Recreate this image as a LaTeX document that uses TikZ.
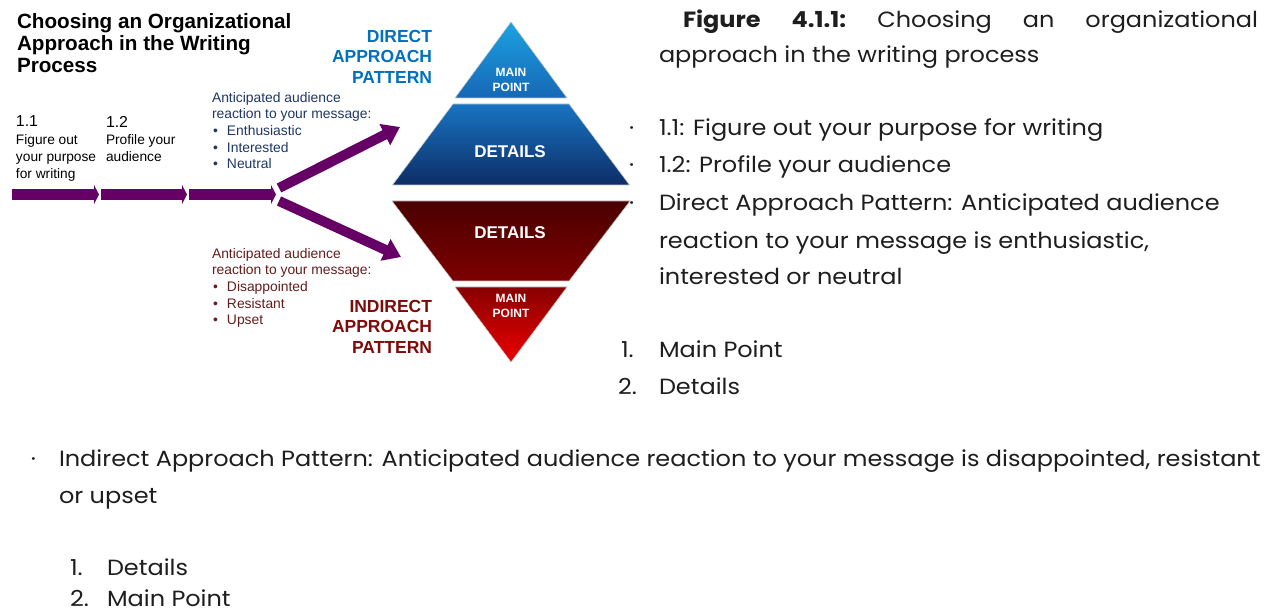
\documentclass[tikz,border=0pt]{standalone}
\usepackage{fontspec}
\setmainfont{Liberation Sans}
\newfontfamily\pop[FakeStretch=1.09]{Poppins}
\usetikzlibrary{arrows.meta}
\definecolor{purp}{HTML}{660066}
\definecolor{dirblue}{HTML}{0070C0}
\definecolor{indred}{HTML}{7F0A0A}
\definecolor{listblue}{HTML}{1F3864}
\definecolor{listred}{HTML}{641E1E}
\definecolor{txt}{HTML}{1E1E1E}
\definecolor{bA}{HTML}{1CA2E2}
\definecolor{bB}{HTML}{1767B5}
\definecolor{bC}{HTML}{1874C2}
\definecolor{bD}{HTML}{0D2D66}
\definecolor{rA}{HTML}{4A0000}
\definecolor{rB}{HTML}{7E0000}
\definecolor{rC}{HTML}{880000}
\definecolor{rD}{HTML}{EC0000}
\begin{document}
\begin{tikzpicture}[x=0.75pt,y=-0.75pt,
  every node/.style={inner sep=0pt,outer sep=0pt},
  ttl/.style={anchor=north west,align=left,font=\bfseries\fontsize{15.5pt}{16.5pt}\selectfont},
  pattern/.style={anchor=north east,align=right,font=\bfseries\fontsize{13.1pt}{15.4pt}\selectfont},
  stepnum/.style={anchor=north west,font=\fontsize{11.9pt}{13pt}\selectfont},
  steptxt/.style={anchor=north west,align=left,font=\fontsize{10.3pt}{12.4pt}\selectfont},
  reaction/.style={anchor=north west,align=left,font=\fontsize{10.4pt}{12.5pt}\selectfont},
  hbar/.style={draw=purp,line width=8.25pt,-{Triangle[length=3.75pt,width=14.25pt]}},
  diag/.style={draw=purp,line width=7.5pt,-{Triangle[length=12.75pt,width=17pt]}},
  piece/.style={draw=gray!45,line width=0.4pt},
  inlbl/.style={text=white,align=center,font=\bfseries\fontsize{9pt}{11.25pt}\selectfont},
  bigl/.style={text=white,font=\bfseries\fontsize{12.75pt}{14pt}\selectfont},
  rt/.style={anchor=base west,text=txt,font=\pop\fontsize{16.5pt}{20pt}\selectfont},
]
\useasboundingbox (0,0) rectangle (1272,613);
\fill[white] (0,0) rectangle (1272,613);

% title
\node[ttl] (title) at (17,14) {Choosing an Organizational\\Approach in the Writing\\Process};
\node[pattern,text=dirblue] (direct) at (432,30) {DIRECT\\APPROACH\\PATTERN};
\node[pattern,text=indred] (indirect) at (432,300) {INDIRECT\\APPROACH\\PATTERN};

% steps
\node[stepnum] (n11) at (16,116) {1.1};
\node[steptxt] (s11) at (16,135) {Figure out\\your purpose\\for writing};
\node[stepnum] (n12) at (106,116) {1.2};
\node[steptxt] (s12) at (106,135) {Profile your\\audience};

% reactions
\node[reaction,text=listblue] (rblue) at (212,92) {Anticipated audience\\reaction to your message:\\
\makebox[11.25pt][l]{\hspace{0.8pt}•}Enthusiastic\\
\makebox[11.25pt][l]{\hspace{0.8pt}•}Interested\\
\makebox[11.25pt][l]{\hspace{0.8pt}•}Neutral};
\node[reaction,text=listred] (rred) at (212,248) {Anticipated audience\\reaction to your message:\\
\makebox[11.25pt][l]{\hspace{0.8pt}•}Disappointed\\
\makebox[11.25pt][l]{\hspace{0.8pt}•}Resistant\\
\makebox[11.25pt][l]{\hspace{0.8pt}•}Upset};

% arrows
\coordinate (h0) at (12,194.5);
\coordinate (h1) at (99,194.5);
\coordinate (h2) at (101,194.5);
\coordinate (h3) at (187,194.5);
\coordinate (h4) at (189,194.5);
\coordinate (h5) at (276,194.5);
\coordinate (u0) at (279,188);
\coordinate (u1) at (400,127);
\coordinate (d0) at (279,201);
\coordinate (d1) at (401,257);
\draw[diag] (u0) -- (u1);
\draw[diag] (d0) -- (d1);
\draw[hbar] (h0) -- (h1);
\draw[hbar] (h2) -- (h3);
\draw[hbar] (h4) -- (h5);

% pyramid
\shadedraw[piece,top color=bA,bottom color=bB] (511,22) -- (567,98) -- (455,98) -- cycle;
\shadedraw[piece,top color=bC,bottom color=bD] (453,104) -- (569,104) -- (629.5,185) -- (392.5,185) -- cycle;
\shadedraw[piece,top color=rA,bottom color=rB] (392,201) -- (630,201) -- (569,281) -- (453,281) -- cycle;
\shadedraw[piece,top color=rC,bottom color=rD] (455,287) -- (567,287) -- (511,362) -- cycle;
\node[inlbl] (mp1) at (511,79.5) {MAIN\\POINT};
\node[bigl] (dt1) at (510,152) {DETAILS};
\node[bigl] (dt2) at (510,233) {DETAILS};
\node[inlbl] (mp2) at (511,305.5) {MAIN\\POINT};

% right text
\node[rt] (f1) at (683,28) {\makebox[431.25pt][s]{\textbf{Figure}\hfill\textbf{4.1.1:}\hfill Choosing\hfill an\hfill organizational}};
\node[rt] (f2) at (659,63) {approach in the writing process};
\node[rt] (d1) at (629,136) {·};
\node[rt] (l1) at (659,136) {1.1: Figure out your purpose for writing};
\node[rt] (d2) at (629,173) {·};
\node[rt] (l2) at (659,173) {1.2: Profile your audience};
\node[rt] (d3) at (629,211) {·};
\node[rt] (l3) at (659,211) {Direct Approach Pattern: Anticipated audience};
\node[rt] (l4) at (659,248) {reaction to your message is enthusiastic,};
\node[rt] (l5) at (659,285) {interested or neutral};
\node[rt] (k1) at (621,357) {1.};
\node[rt] (l6) at (659,357) {Main Point};
\node[rt] (k2) at (618,394) {2.};
\node[rt] (l7) at (659,394) {Details};
\node[rt] (d4) at (31,466) {·};
\node[rt] (l8) at (59,466) {Indirect Approach Pattern: Anticipated audience reaction to your message is disappointed, resistant};
\node[rt] (l9) at (59,503) {or upset};
\node[rt] (k3) at (70,575) {1.};
\node[rt] (l10) at (107,575) {Details};
\node[rt] (k4) at (70,606) {2.};
\node[rt] (l11) at (107,606) {Main Point};
\end{tikzpicture}
\end{document}
